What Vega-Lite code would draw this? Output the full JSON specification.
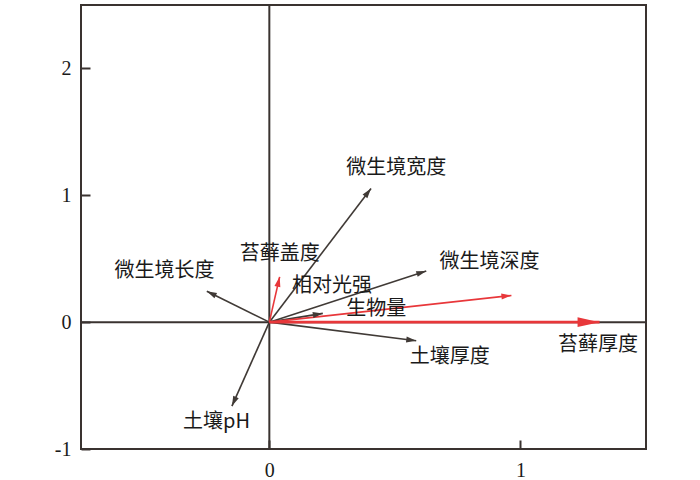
{
  "$schema": "https://vega.github.io/schema/vega-lite/v6.json",
  "width": 565,
  "height": 444,
  "autosize": {"type": "none"},
  "padding": {"left": 81, "top": 5, "right": 54, "bottom": 31},
  "background": "white",
  "config": {
    "view": {"stroke": "#3a3330", "strokeWidth": 2},
    "axis": {
      "domain": false,
      "grid": false,
      "ticks": true,
      "tickSize": -9,
      "tickWidth": 2,
      "tickColor": "#3a3330",
      "labelFont": "Liberation Serif",
      "labelFontSize": 20,
      "labelColor": "#1a1a1a",
      "labelExpr": "'' + datum.value",
      "title": null
    }
  },
  "datasets": {
    "vectors": [
      {"name": "微生境宽度", "type": "env", "x": 0.405, "y": 1.054, "lx": 0.505, "ly": 1.218},
      {"name": "微生境深度", "type": "env", "x": 0.625, "y": 0.404, "lx": 0.877, "ly": 0.475},
      {"name": "土壤厚度", "type": "env", "x": 0.585, "y": -0.147, "lx": 0.718, "ly": -0.272},
      {"name": "微生境长度", "type": "env", "x": -0.249, "y": 0.244, "lx": -0.417, "ly": 0.402},
      {"name": "土壤pH", "type": "env", "x": -0.149, "y": -0.662, "lx": -0.21, "ly": -0.788},
      {"name": "相对光强", "type": "env", "x": 0.213, "y": 0.069, "lx": 0.25, "ly": 0.286},
      {"name": "苔藓盖度", "type": "moss", "x": 0.041, "y": 0.357, "lx": 0.041, "ly": 0.536},
      {"name": "生物量", "type": "moss", "x": 0.964, "y": 0.21, "lx": 0.426, "ly": 0.1},
      {"name": "苔藓厚度", "type": "moss", "x": 1.315, "y": 0, "lx": 1.309, "ly": -0.177}
    ]
  },
  "layer": [
    {
      "data": {"values": [{"v": 0}]},
      "mark": {"type": "rule", "color": "#3a3330", "strokeWidth": 2},
      "encoding": {
        "x": {"field": "v", "type": "quantitative", "scale": {"domain": [-0.75, 1.5], "nice": false, "zero": false}, "axis": {"values": [0, 1], "labelPadding": 20}}
      }
    },
    {
      "data": {"values": [{"v": 0}]},
      "mark": {"type": "rule", "color": "#3a3330", "strokeWidth": 2},
      "encoding": {
        "y": {"field": "v", "type": "quantitative", "scale": {"domain": [-1, 2.5], "nice": false, "zero": false}, "axis": {"values": [-1, 0, 1, 2], "labelPadding": 19}}
      }
    },
    {
      "data": {"name": "vectors"},
      "transform": [{"filter": "datum.name !== '苔藓厚度'"}],
      "mark": {"type": "rule", "strokeWidth": 1.6},
      "encoding": {
        "x": {"field": "x", "type": "quantitative"},
        "y": {"field": "y", "type": "quantitative"},
        "x2": {"datum": 0},
        "y2": {"datum": 0},
        "color": {"field": "type", "type": "nominal", "scale": {"domain": ["env", "moss"], "range": ["#403a36", "#e8373a"]}, "legend": null}
      }
    },
    {
      "data": {"name": "vectors"},
      "transform": [
        {"filter": "datum.name !== '苔藓厚度'"},
        {"calculate": "atan2(-datum.y * 126.86, datum.x * 251.1) * 180 / PI", "as": "ang"}
      ],
      "mark": {"type": "point", "filled": true, "opacity": 1, "size": 100, "shape": "M0,0L-2,-0.6L-2,0.6Z", "strokeWidth": 0},
      "encoding": {
        "x": {"field": "x", "type": "quantitative"},
        "y": {"field": "y", "type": "quantitative"},
        "angle": {"field": "ang", "type": "quantitative", "scale": null},
        "color": {"field": "type", "type": "nominal", "scale": {"domain": ["env", "moss"], "range": ["#403a36", "#e8373a"]}, "legend": null}
      }
    },
    {
      "data": {"name": "vectors"},
      "transform": [{"filter": "datum.name === '苔藓厚度'"}],
      "mark": {"type": "rule", "strokeWidth": 2.6, "color": "#e8373a"},
      "encoding": {
        "x": {"field": "x", "type": "quantitative"},
        "y": {"field": "y", "type": "quantitative"},
        "x2": {"datum": 0},
        "y2": {"datum": 0}
      }
    },
    {
      "data": {"name": "vectors"},
      "transform": [{"filter": "datum.name === '苔藓厚度'"}],
      "mark": {"type": "point", "filled": true, "opacity": 1, "size": 484, "shape": "M0,0L-2,-0.45L-2,0.45Z", "strokeWidth": 0, "color": "#e8373a"},
      "encoding": {
        "x": {"field": "x", "type": "quantitative"},
        "y": {"field": "y", "type": "quantitative"}
      }
    },
    {
      "data": {"name": "vectors"},
      "mark": {"type": "text", "font": "Noto Sans CJK SC", "fontSize": 20, "color": "#1a1a1a", "align": "center", "baseline": "middle"},
      "encoding": {
        "x": {"field": "lx", "type": "quantitative"},
        "y": {"field": "ly", "type": "quantitative"},
        "text": {"field": "name", "type": "nominal"}
      }
    }
  ]
}
